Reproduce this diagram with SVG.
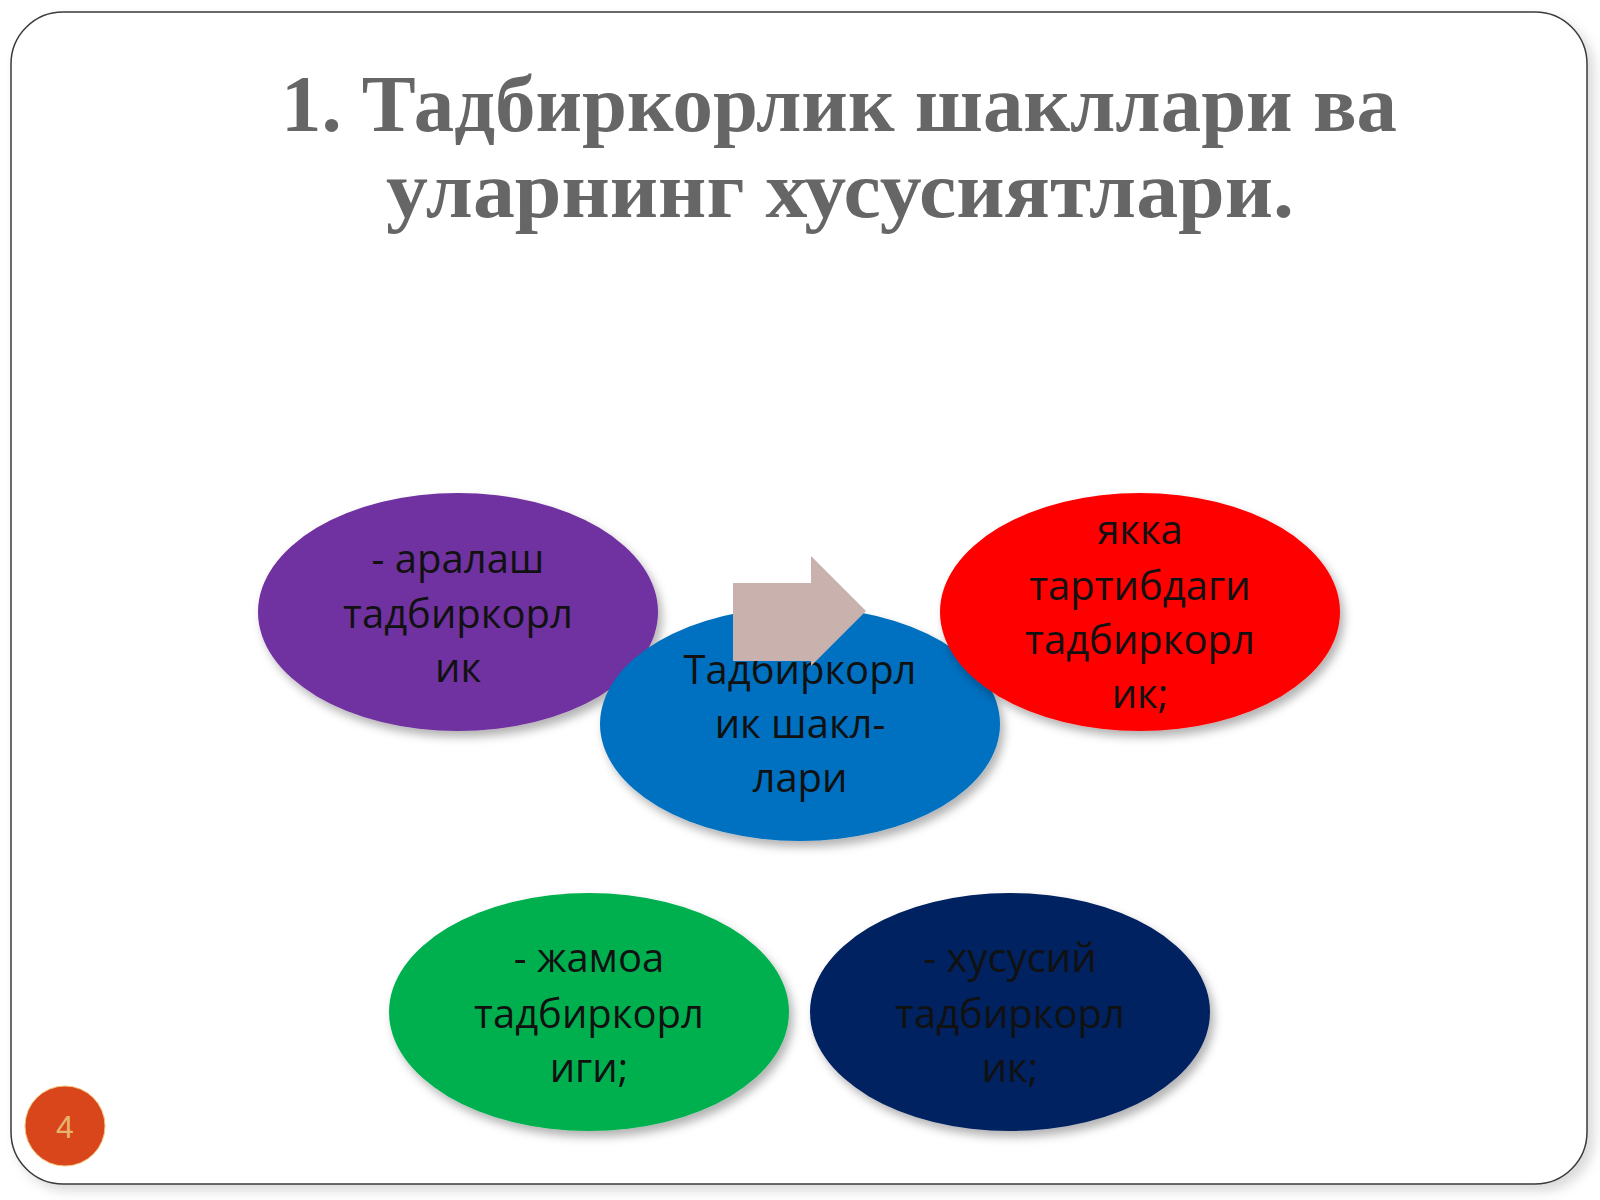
<svg xmlns="http://www.w3.org/2000/svg" width="1600" height="1200" viewBox="0 0 1600 1200">
  <defs>
    <filter id="sh" x="-20%" y="-20%" width="150%" height="150%">
      <feDropShadow dx="4" dy="6" stdDeviation="5" flood-color="#000" flood-opacity="0.3"/>
    </filter>
    <filter id="slideSh" x="-5%" y="-5%" width="110%" height="110%">
      <feDropShadow dx="6" dy="6" stdDeviation="6" flood-color="#000" flood-opacity="0.15"/>
    </filter>
    <style>
      .title { font-family: "Liberation Serif", "DejaVu Serif", serif; font-weight: bold; font-size: 81px; fill: #666666; }
      .lbl { font-family: "Open Sans", "Noto Sans", "DejaVu Sans", sans-serif; font-size: 40px; fill: #111111; text-anchor: middle; }
      .node ellipse { filter: url(#sh); }
    </style>
  </defs>
  <rect width="1600" height="1200" fill="#ffffff"/>
  <rect x="11" y="12" width="1576" height="1172" rx="52" ry="52" fill="#ffffff" stroke="#3a3a3a" stroke-width="1.5" filter="url(#slideSh)"/>

  <g id="title">
    <text class="title" x="281" y="131" textLength="1116" lengthAdjust="spacingAndGlyphs">1. Тадбиркорлик шакллари ва</text>
    <text class="title" x="386" y="217" textLength="908" lengthAdjust="spacingAndGlyphs">уларнинг хусусиятлари.</text>
  </g>

  <g id="node-aralash" class="node">
    <ellipse cx="458" cy="612" rx="200" ry="119" fill="#7030A0"/>
    <text class="lbl" x="458" y="573">- аралаш</text>
    <text class="lbl" x="458" y="628">тадбиркорл</text>
    <text class="lbl" x="458" y="682">ик</text>
  </g>

  <g id="node-center" class="node">
    <ellipse cx="800" cy="724" rx="200" ry="117" fill="#0070C0"/>
    <text class="lbl" x="800" y="684">Тадбиркорл</text>
    <text class="lbl" x="800" y="738">ик шакл-</text>
    <text class="lbl" x="800" y="792">лари</text>
  </g>

  <g id="node-yakka" class="node">
    <ellipse cx="1140" cy="612" rx="200" ry="119" fill="#FF0000"/>
    <text class="lbl" x="1140" y="544">якка</text>
    <text class="lbl" x="1140" y="600">тартибдаги</text>
    <text class="lbl" x="1140" y="654">тадбиркорл</text>
    <text class="lbl" x="1140" y="708">ик;</text>
  </g>

  <g id="node-jamoa" class="node">
    <ellipse cx="589" cy="1012" rx="200" ry="119" fill="#00B050"/>
    <text class="lbl" x="589" y="972">- жамоа</text>
    <text class="lbl" x="589" y="1028">тадбиркорл</text>
    <text class="lbl" x="589" y="1082">иги;</text>
  </g>

  <g id="node-xususiy" class="node">
    <ellipse cx="1010" cy="1012" rx="200" ry="119" fill="#002060"/>
    <text class="lbl" x="1010" y="972">- хусусий</text>
    <text class="lbl" x="1010" y="1028">тадбиркорл</text>
    <text class="lbl" x="1010" y="1082">ик;</text>
  </g>

  <g id="connectors">
    <polygon points="733,583 811,583 811,556 866,611 811,666 811,661 733,661" fill="#C9B1AE"/>
  </g>

  <g id="page-number">
    <circle cx="65" cy="1126" r="40" fill="#D9461B" stroke="#F3C27A" stroke-width="1"/>
    <text x="65" y="1138" font-family="Liberation Sans, Arial, sans-serif" font-size="32" fill="#E6B46E" text-anchor="middle">4</text>
  </g>
</svg>
